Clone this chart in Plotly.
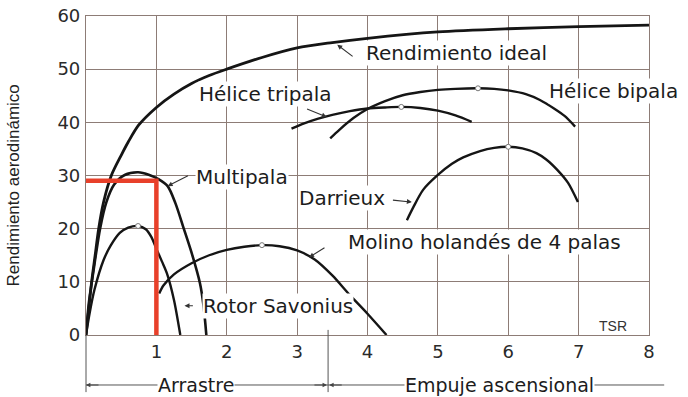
import plotly.graph_objects as go

# ---------------- data ----------------
ideal_x = [0, 0.04, 0.08, 0.13, 0.18, 0.25, 0.36, 0.5, 0.6, 0.75, 1.0, 1.25, 1.5, 1.75, 2.0, 2.5, 3.0, 3.5, 4.0, 5.0, 6.0, 7.0, 8.0]
ideal_y = [0, 5, 10, 15, 20, 25, 30, 33.8, 36.3, 39.5, 42.8, 45.3, 47.3, 48.8, 50, 52.2, 54, 55, 55.8, 57, 57.6, 58, 58.3]

multipala_x = [0, 0.04, 0.1, 0.2, 0.29, 0.4, 0.55, 0.74, 0.9, 1.03, 1.16, 1.27, 1.38, 1.5, 1.62, 1.67, 1.71]
multipala_y = [0, 6, 11.5, 20, 25, 28.3, 30.1, 30.6, 30.1, 29.3, 28.0, 24.8, 20.4, 15.5, 9.7, 5.5, 0]

savonius_x = [0, 0.05, 0.12, 0.25, 0.35, 0.48, 0.6, 0.74, 0.85, 0.93, 1.0, 1.08, 1.15, 1.25, 1.34]
savonius_y = [0, 4, 8.5, 14.1, 16.8, 19.2, 20.2, 20.5, 19.9, 18.4, 16.2, 13.8, 11.6, 6.6, 0]

molino_x = [1.04, 1.1, 1.25, 1.5, 1.75, 2.0, 2.25, 2.5, 2.75, 3.0, 3.25, 3.5, 3.75, 4.0, 4.27]
molino_y = [7.8, 9.3, 11.4, 13.5, 15.0, 16.0, 16.6, 16.9, 16.7, 15.9, 14.2, 11.2, 7.5, 4.0, 0]

tripala_x = [2.92, 3.1, 3.3, 3.5, 3.75, 4.0, 4.25, 4.48, 4.75, 5.0, 5.25, 5.48]
tripala_y = [38.8, 39.8, 40.7, 41.4, 42.1, 42.6, 42.8, 42.9, 42.7, 42.2, 41.3, 40.1]

bipala_x = [3.47, 3.6, 3.8, 4.0, 4.25, 4.5, 4.75, 5.0, 5.25, 5.57, 5.8, 6.0, 6.25, 6.45, 6.65, 6.8, 6.95]
bipala_y = [37.0, 38.6, 40.8, 42.5, 44.0, 45.1, 45.7, 46.1, 46.3, 46.4, 46.3, 46.0, 45.3, 44.2, 42.6, 41.2, 39.2]

darrieux_x = [4.56, 4.65, 4.79, 5.0, 5.2, 5.36, 5.6, 5.8, 6.0, 6.2, 6.4, 6.54, 6.7, 6.85, 6.99]
darrieux_y = [21.6, 24.0, 27.3, 30.1, 32.2, 33.4, 34.6, 35.2, 35.4, 35.1, 34.2, 33.0, 31.0, 28.6, 25.0]

peak_x = [0.74, 2.5, 4.48, 5.57, 6.0]
peak_y = [20.5, 16.9, 42.9, 46.4, 35.4]

red_x = [0, 1, 1]
red_y = [29, 29, 0]

x_ticks = [1, 2, 3, 4, 5, 6, 7, 8]
y_ticks = [0, 10, 20, 30, 40, 50, 60]

boundary_tsr = 3.44  # Arrastre / Empuje ascensional split

# labels: (text, x, y)
labels = [
    ("Rendimiento ideal", 5.26, 53.0),
    ("Hélice tripala", 2.55, 45.3),
    ("Hélice bipala", 7.49, 45.9),
    ("Multipala", 2.22, 29.8),
    ("Darrieux", 3.64, 25.8),
    ("Molino holandés de 4 palas", 5.66, 17.4),
    ("Rotor Savonius", 2.73, 5.4),
]
# leader arrows: (head_x, head_y, tail_x, tail_y)
leaders = [
    (3.57, 54.6, 3.81, 52.2),
    (3.42, 41.0, 3.12, 42.6),
    (1.16, 28.0, 1.47, 30.1),
    (4.63, 25.0, 4.34, 25.4),
    (3.17, 14.6, 3.41, 16.6),
    (1.40, 5.5, 1.54, 5.5),
]

GRID = "#8d7c76"
INK = "#151515"
LBL_FONT = dict(family="DejaVu Sans", size=20, color="#1c1c1c")
BOT_FONT = dict(family="DejaVu Sans", size=19, color="#1c1c1c")

fig = go.Figure()

curves = [
    (ideal_x, ideal_y, 2.8),
    (multipala_x, multipala_y, 2.6),
    (savonius_x, savonius_y, 2.4),
    (molino_x, molino_y, 2.4),
    (tripala_x, tripala_y, 2.4),
    (bipala_x, bipala_y, 2.4),
    (darrieux_x, darrieux_y, 2.4),
]
for xs, ys, w in curves:
    fig.add_trace(go.Scatter(x=xs, y=ys, mode="lines",
                             line=dict(color=INK, width=w, shape="spline", smoothing=0.8),
                             hoverinfo="skip"))

fig.add_trace(go.Scatter(x=peak_x, y=peak_y, mode="markers",
                         marker=dict(symbol="circle", size=5, color="white",
                                     line=dict(color="#777777", width=1)),
                         hoverinfo="skip"))

fig.add_trace(go.Scatter(x=red_x, y=red_y, mode="lines",
                         line=dict(color="#e8402a", width=4.5), hoverinfo="skip"))

annotations = []
for text, x, y in labels:
    annotations.append(dict(x=x, y=y, xref="x", yref="y", text=text, showarrow=False,
                            xanchor="center", yanchor="middle",
                            font=LBL_FONT, bgcolor="white", borderpad=0))
annotations.append(dict(x=7.49, y=1.6, xref="x", yref="y", text="TSR", showarrow=False,
                        xanchor="center", yanchor="middle",
                        font=dict(family="Liberation Sans", size=14, color="#333333")))
for hx, hy, tx, ty in leaders:
    annotations.append(dict(x=hx, y=hy, xref="x", yref="y", ax=tx, ay=ty,
                            axref="x", ayref="y", text="", showarrow=True,
                            arrowhead=2, arrowsize=0.9, arrowwidth=1.1,
                            arrowcolor="#333333"))

# bottom regime annotations
y_arrow = -0.1567
xb = boundary_tsr / 8
for x, ax in [(0, 14), (xb - 0.002, -14), (xb + 0.002, 14)]:
    annotations.append(dict(x=x, y=y_arrow, xref="paper", yref="paper", ax=ax, ay=0,
                            text="", showarrow=True, arrowhead=2, arrowsize=0.8,
                            arrowwidth=1.1, arrowcolor="#444444"))
annotations.append(dict(x=1.56 / 8, y=y_arrow, xref="paper", yref="paper", text="Arrastre",
                        xanchor="center", yanchor="middle",
                        showarrow=False, font=BOT_FONT, bgcolor="white", borderpad=0))
annotations.append(dict(x=5.87 / 8, y=y_arrow, xref="paper", yref="paper",
                        xanchor="center", yanchor="middle",
                        text="Empuje ascensional", showarrow=False, font=BOT_FONT,
                        bgcolor="white", borderpad=0))
# y-axis title
annotations.append(dict(x=-0.129, y=0.47, xref="paper", yref="paper",
                        xanchor="center", yanchor="middle",
                        text="Rendimiento aerodinámico", textangle=-90, showarrow=False,
                        font=dict(family="Liberation Sans", size=17, color="#222222")))

shapes = [
    dict(type="line", xref="paper", yref="paper", x0=0, x1=0, y0=0, y1=-0.179,
         line=dict(color="#555555", width=1)),
    dict(type="line", xref="paper", yref="paper", x0=xb, x1=xb, y0=0.016, y1=-0.179,
         line=dict(color="#555555", width=1)),
    dict(type="line", xref="paper", yref="paper", x0=0, x1=1.027, y0=y_arrow, y1=y_arrow,
         line=dict(color="#555555", width=1)),
]

axis_common = dict(showgrid=True, gridcolor=GRID, gridwidth=1.2, showline=True,
                   linecolor=GRID, linewidth=1.2, mirror=True, zeroline=False,
                   automargin=False,
                   ticks="", tickfont=dict(family="DejaVu Sans", size=18, color="#2a2a2a"))

fig.update_layout(
    width=688, height=397,
    margin=dict(l=86, r=39, t=16, b=62, pad=0, autoexpand=False),
    plot_bgcolor="white", paper_bgcolor="white",
    showlegend=False,
    xaxis=dict(range=[0, 8], tickvals=x_ticks, ticklabelstandoff=0, **axis_common),
    yaxis=dict(range=[0, 60], tickvals=y_ticks, ticklabelstandoff=1, **axis_common),
    annotations=annotations,
    shapes=shapes,
)

fig.write_html("out.html", config={"displayModeBar": False},
               post_script="document.body.style.margin='0';")
